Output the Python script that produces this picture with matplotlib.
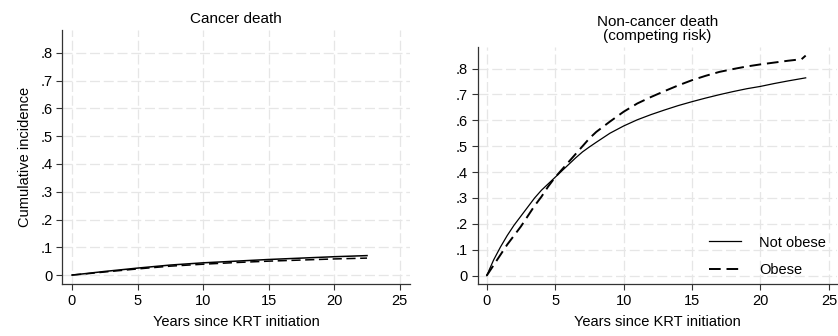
import matplotlib
matplotlib.use("Agg")
import matplotlib.pyplot as plt

plt.rcParams['font.family'] = ['Liberation Sans', 'DejaVu Sans']

# cancer death
can_t = [0, 1, 2.5, 5, 7.5, 10, 12.5, 15, 17.5, 20, 22.5]
can_not_obese = [0, 0.005, 0.013, 0.025, 0.036, 0.044, 0.050, 0.056, 0.061, 0.066, 0.070]
can_obese = [0, 0.004, 0.011, 0.022, 0.032, 0.039, 0.045, 0.050, 0.054, 0.058, 0.061]

# non-cancer death (competing risk)
nc_t_not = [0, 0.5, 1, 1.5, 2, 2.5, 3, 3.5, 4, 4.5, 5, 5.5, 6, 6.5, 7, 7.5, 8, 9, 10,
            11, 12, 13, 14, 15, 16, 17, 18, 19, 20, 21, 22, 23.3]
nc_not_obese = [0, 0.06, 0.11, 0.155, 0.195, 0.23, 0.265, 0.30, 0.33, 0.355, 0.38, 0.405,
                0.43, 0.455, 0.478, 0.497, 0.515, 0.55, 0.578, 0.602, 0.622, 0.640,
                0.657, 0.672, 0.686, 0.699, 0.711, 0.722, 0.731, 0.742, 0.752, 0.764]
nc_t_ob = [0, 0.5, 1, 1.5, 2, 2.5, 3, 3.5, 4, 4.5, 5, 5.5, 6, 6.5, 7, 7.5, 8, 9, 10,
           11, 12, 13, 14, 15, 16, 17, 18, 19, 20, 21, 22, 23, 23.3]
nc_obese = [0, 0.04, 0.08, 0.12, 0.155, 0.19, 0.23, 0.27, 0.305, 0.345, 0.38, 0.41,
            0.44, 0.47, 0.50, 0.53, 0.555, 0.595, 0.633, 0.665, 0.69, 0.713, 0.735,
            0.755, 0.772, 0.787, 0.798, 0.808, 0.816, 0.823, 0.830, 0.836, 0.85]

xticks = [0, 5, 10, 15, 20, 25]
yticks = [0, .1, .2, .3, .4, .5, .6, .7, .8]
ylabels = ['0', '.1', '.2', '.3', '.4', '.5', '.6', '.7', '.8']

fig = plt.figure(figsize=(8.38, 3.36), dpi=100)
ax1 = fig.add_axes([0.074, 0.155, 0.415, 0.756])
ax2 = fig.add_axes([0.570, 0.155, 0.429, 0.705])


def style(ax, xmin, xmax):
    ax.set_xlim(xmin, xmax)
    ax.set_ylim(-0.032, 0.883)
    ax.set_xticks(xticks)
    ax.set_yticks(yticks)
    ax.set_yticklabels(ylabels)
    ax.grid(True, color='#e6e6e6', lw=0.9, ls=(0, (8, 3)))
    ax.set_axisbelow(True)
    for s in ['top', 'right']:
        ax.spines[s].set_visible(False)
    for s in ['left', 'bottom']:
        ax.spines[s].set_color('#333333')
        ax.spines[s].set_linewidth(0.9)
    ax.tick_params(direction='out', length=4, width=0.8, color='#333333',
                   labelsize=10.5, pad=3)
    ax.set_xlabel('Years since KRT initiation', fontsize=10.5, labelpad=5)


style(ax1, -0.76, 25.76)
ax1.plot(can_t, can_not_obese, color='black', lw=1.1)
ax1.plot(can_t, can_obese, color='black', lw=1.1, ls=(0, (6, 3)))
ax1.set_ylabel('Cumulative incidence', fontsize=10.5, labelpad=6)
ax1.set_title('Cancer death', fontsize=11, pad=5)

style(ax2, -0.66, 25.6)
ax2.plot(nc_t_not, nc_not_obese, color='black', lw=0.9, label='Not obese')
ax2.plot(nc_t_ob, nc_obese, color='black', lw=1.4, ls=(0, (6, 3)), label='Obese')
ax2.set_title('Non-cancer death\n(competing risk)', fontsize=11, pad=5, linespacing=1.0)
ax2.legend(loc='lower right', frameon=False, fontsize=10.5, handlelength=2.2,
           handletextpad=1.2, labelspacing=0.9, bbox_to_anchor=(1.005, -0.025))

fig.savefig('out.png', dpi=100)
